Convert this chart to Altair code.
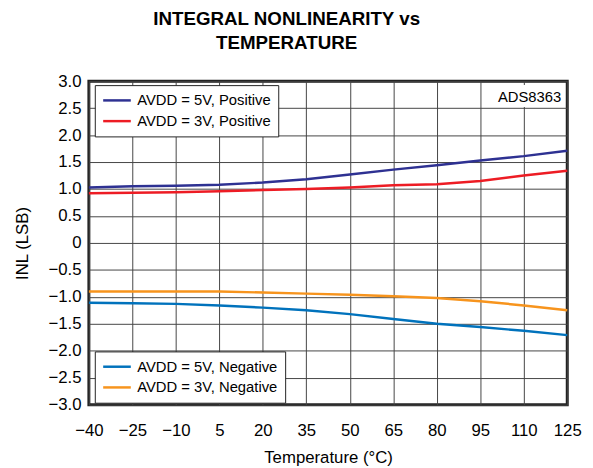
import altair as alt
import pandas as pd

temps = [-40, -25, -10, 5, 20, 35, 50, 65, 80, 95, 110, 125]
pos_5v = [1.03, 1.05, 1.06, 1.08, 1.12, 1.18, 1.27, 1.36, 1.44, 1.53, 1.61, 1.71]
pos_3v = [0.92, 0.93, 0.94, 0.96, 0.98, 1.00, 1.03, 1.07, 1.09, 1.15, 1.25, 1.34]
neg_5v = [-1.11, -1.12, -1.13, -1.16, -1.20, -1.25, -1.32, -1.41, -1.50, -1.56, -1.63, -1.71]
neg_3v = [-0.90, -0.90, -0.90, -0.90, -0.92, -0.94, -0.96, -0.99, -1.02, -1.08, -1.16, -1.25]

pos_names = ["AVDD = 5V, Positive", "AVDD = 3V, Positive"]
neg_names = ["AVDD = 5V, Negative", "AVDD = 3V, Negative"]
pos_colors = ["#2e3192", "#ed1c24"]
neg_colors = ["#0072bc", "#f7941d"]

x_ticks = [-40, -25, -10, 5, 20, 35, 50, 65, 80, 95, 110, 125]
y_ticks = [-3.0, -2.5, -2.0, -1.5, -1.0, -0.5, 0, 0.5, 1.0, 1.5, 2.0, 2.5, 3.0]

anno_text = ["ADS8363"]
anno_x = [112]
anno_y = [2.71]
box_x = [96]
box_x2 = [124]
box_y = [2.52]
box_y2 = [2.93]

FONT = "Liberation Sans"

def long(names, series):
    rows = []
    for n, s in zip(names, series):
        for t, v in zip(temps, s):
            rows.append({"x": t, "y": v, "series": n})
    return pd.DataFrame(rows)

pos_df = long(pos_names, [pos_5v, pos_3v])
neg_df = long(neg_names, [neg_5v, neg_3v])

x_scale = alt.Scale(domain=[-40, 125], nice=False, zero=False)
y_scale = alt.Scale(domain=[-3, 3], nice=False, zero=False)

x_axis = alt.Axis(values=x_ticks, title="Temperature (°C)", grid=True,
                  labelOverlap=False, labelFlush=False,
                  labelExpr="replace(datum.label, '-', '\u2212')",
                  titleY=54, titleBaseline="middle")
y_axis = alt.Axis(values=y_ticks, title="INL (LSB)", grid=True,
                  labelOverlap=False, labelFlush=False,
                  labelExpr="datum.value == 0 ? '0' : replace(format(datum.value, '.1f'), '-', '\u2212')",
                  titleX=-67, titleY=164, titleBaseline="middle")

def X():
    return alt.X("x:Q", scale=x_scale, axis=x_axis)

def Y():
    return alt.Y("y:Q", scale=y_scale, axis=y_axis)

def legend(y):
    return alt.Legend(orient="none", legendX=6, legendY=y, title=None,
                      symbolType="M-1,0H3", symbolStrokeWidth=2.5, symbolSize=196,
                      labelFontSize=15, labelFont=FONT, labelColor="black", labelLimit=300,
                      padding=7, rowPadding=4, strokeColor="#222", fillColor="white",
                      labelOffset=19)

pos = alt.Chart(pos_df).mark_line(strokeWidth=2.5).encode(
    x=X(), y=Y(),
    color=alt.Color("series:N", scale=alt.Scale(domain=pos_names, range=pos_colors),
                    sort=pos_names, legend=legend(4)),
)
neg = alt.Chart(neg_df).mark_line(strokeWidth=2.5).encode(
    x=X(), y=Y(),
    color=alt.Color("series:N", scale=alt.Scale(domain=neg_names, range=neg_colors),
                    sort=neg_names, legend=legend(274)),
)

box = alt.Chart(pd.DataFrame({"x": box_x, "x2": box_x2, "y": box_y, "y2": box_y2})).mark_rect(
    fill="white").encode(x=X(), x2="x2:Q", y=Y(), y2="y2:Q")
anno = alt.Chart(pd.DataFrame({"x": anno_x, "y": anno_y, "t": anno_text})).mark_text(
    fontSize=15, font=FONT, color="black").encode(x=X(), y=Y(), text="t:N")

chart = alt.layer(pos, neg, box, anno).resolve_scale(color="independent").properties(
    width=485, height=328,
    autosize=alt.AutoSizeParams(type="none"),
    padding={"left": 82, "top": 71, "right": 18, "bottom": 61},
    title=alt.TitleParams(text=["INTEGRAL NONLINEARITY vs", "TEMPERATURE"],
                          fontSize=19, fontWeight="bold", font=FONT, color="black",
                          anchor="middle", dx=-42, offset=20, lineHeight=24),
).configure_view(stroke="#222", strokeWidth=3).configure_axis(
    gridColor="#444", gridWidth=1, gridOpacity=1, domain=False, ticks=False,
    labelFont=FONT, labelFontSize=17, labelColor="black",
    labelFlush=False, labelOverlap=False, labelBound=False,
    titleFont=FONT, titleFontSize=17, titleColor="black", titleFontWeight="normal",
).configure_axisX(labelPadding=18).configure_axisY(labelPadding=8)

chart.save("out.html", embed_options={"renderer": "svg", "actions": False})
